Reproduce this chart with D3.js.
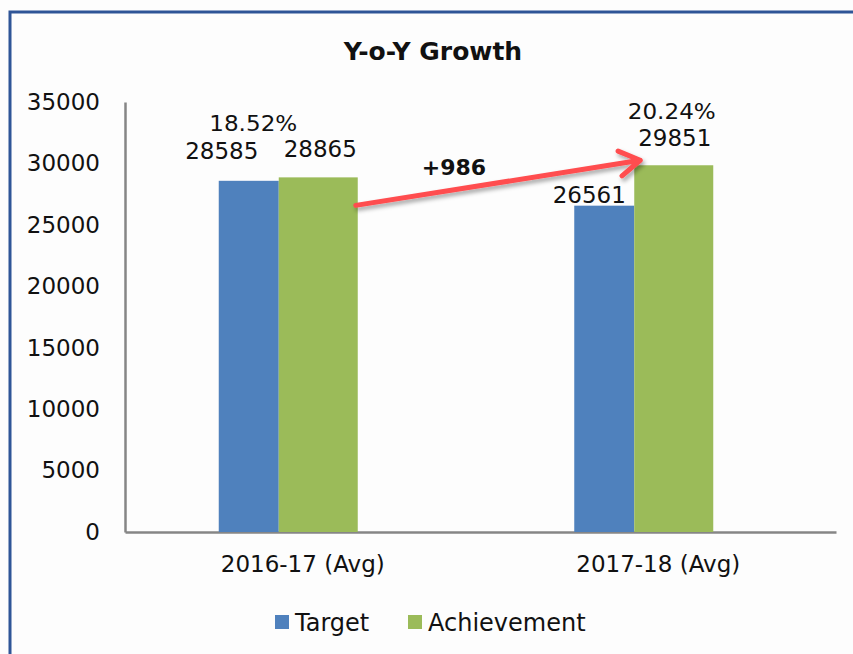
<!DOCTYPE html>
<html>
<head>
<meta charset="utf-8">
<script src="https://cdn.jsdelivr.net/npm/d3@7"></script>
<style>
  body { margin: 0; background: #fdfdfd; }
  text { font-family: "DejaVu Sans", "Liberation Sans", sans-serif; fill: #111; }
</style>
</head>
<body>
<div id="vis"></div>
<script>
// chart data
var categories = ["2016-17 (Avg)", "2017-18 (Avg)"];
var series = ["Target", "Achievement"];
var target = [28585, 26561];
var achievement = [28865, 29851];
var growth = ["18.52%", "20.24%"];
var diffLabel = "+986";
var yTicks = [0, 5000, 10000, 15000, 20000, 25000, 30000, 35000];
var colors = ["#4f81bd", "#9bbb59"];

var W = 853, H = 654;
var margin = {top: 102, right: 17, bottom: 122, left: 125},
    width = W - margin.left - margin.right,
    height = H - margin.top - margin.bottom;

var svg = d3.select("#vis").append("svg")
    .attr("width", W)
    .attr("height", H);

var defs = svg.append("defs");
var f = defs.append("filter").attr("id", "shadow")
    .attr("x", "-10%").attr("y", "-50%").attr("width", "120%").attr("height", "200%");
f.append("feDropShadow").attr("dx", 2).attr("dy", 3).attr("stdDeviation", 2)
    .attr("flood-color", "#000").attr("flood-opacity", 0.35);

// outer frame (cut off at right/bottom)
svg.append("rect")
    .attr("x", 10).attr("y", 12)
    .attr("width", W + 20).attr("height", H + 20)
    .attr("fill", "none")
    .attr("stroke", "#2f5597")
    .attr("stroke-width", 3);

// title
svg.append("text")
    .attr("x", 433).attr("y", 60)
    .attr("text-anchor", "middle")
    .style("font-weight", "bold")
    .style("font-size", "25px")
    .text("Y-o-Y Growth");

var g = svg.append("g")
    .attr("transform", "translate(" + margin.left + "," + margin.top + ")");

var x = d3.scaleBand().domain(categories).range([0, width]);
var y = d3.scaleLinear().domain([0, 35000]).range([height, 0]);

// axes
var yAxis = g.append("g")
    .call(d3.axisLeft(y).tickValues(yTicks).tickSize(0).tickPadding(25).tickFormat(d3.format("d")));
yAxis.select(".domain").attr("stroke", "#868686").attr("stroke-width", 2.5);
yAxis.selectAll("text").style("font-size", "23px").attr("fill", "#111");

var xAxis = g.append("g")
    .attr("transform", "translate(0," + height + ")")
    .call(d3.axisBottom(x).tickSize(0).tickPadding(24));
xAxis.select(".domain").attr("stroke", "#868686").attr("stroke-width", 2.5);
xAxis.selectAll("text").style("font-size", "23px").attr("fill", "#111");

// bars
var blueW = 60, greenW = 79, groupOff = -84;
function bx(i) { return x(categories[i]) + x.bandwidth() / 2 + groupOff; }

g.selectAll(".bar-t")
    .data(target)
  .enter().append("rect")
    .attr("x", function(d, i) { return bx(i); })
    .attr("y", function(d) { return y(d); })
    .attr("width", blueW)
    .attr("height", function(d) { return height - y(d); })
    .attr("fill", colors[0]);

g.selectAll(".bar-a")
    .data(achievement)
  .enter().append("rect")
    .attr("x", function(d, i) { return bx(i) + blueW; })
    .attr("y", function(d) { return y(d); })
    .attr("width", greenW)
    .attr("height", function(d) { return height - y(d); })
    .attr("fill", colors[1]);

// data labels (hand nudged like the original)
var tNudge = [[-27, -22], [-15, -3]];
var aNudge = [[2, -20], [1, -19]];
var gNudge = [[-65, -46], [-2, -46]];

g.selectAll(".lab-t")
    .data(target)
  .enter().append("text")
    .attr("x", function(d, i) { return bx(i) + blueW / 2 + tNudge[i][0]; })
    .attr("y", function(d, i) { return y(d) + tNudge[i][1]; })
    .attr("text-anchor", "middle")
    .style("font-size", "23px")
    .text(function(d) { return d; });

g.selectAll(".lab-a")
    .data(achievement)
  .enter().append("text")
    .attr("x", function(d, i) { return bx(i) + blueW + greenW / 2 + aNudge[i][0]; })
    .attr("y", function(d, i) { return y(d) + aNudge[i][1]; })
    .attr("text-anchor", "middle")
    .style("font-size", "23px")
    .text(function(d) { return d; });

g.selectAll(".lab-g")
    .data(growth)
  .enter().append("text")
    .attr("x", function(d, i) { return bx(i) + blueW + greenW / 2 + gNudge[i][0]; })
    .attr("y", function(d, i) { return y(achievement[i]) + gNudge[i][1]; })
    .attr("text-anchor", "middle")
    .style("font-size", "22px")
    .attr("textLength", 88)
    .attr("lengthAdjust", "spacingAndGlyphs")
    .text(function(d) { return d; });

// growth arrow from first achievement bar to second
var x1 = bx(0) + blueW + greenW - 2, y1 = y(achievement[0]) + 28;
var x2 = bx(1) + blueW + 6, y2 = y(achievement[1]) - 5;
var ang = Math.atan2(y2 - y1, x2 - x1), hl = 24, ha = 0.55;
var arrow = g.append("g").attr("filter", "url(#shadow)");
arrow.append("path")
    .attr("d", "M" + x1 + "," + y1 + "L" + x2 + "," + y2 +
      "M" + (x2 - hl * Math.cos(ang - ha)) + "," + (y2 - hl * Math.sin(ang - ha)) +
      "L" + x2 + "," + y2 +
      "L" + (x2 - hl * Math.cos(ang + ha)) + "," + (y2 - hl * Math.sin(ang + ha)))
    .attr("fill", "none")
    .attr("stroke", "#ff4d4f")
    .attr("stroke-width", 5)
    .attr("stroke-linecap", "round")
    .attr("stroke-linejoin", "round");

g.append("text")
    .attr("x", 454 - margin.left).attr("y", 175 - margin.top)
    .attr("text-anchor", "middle")
    .style("font-weight", "bold")
    .style("font-size", "22px")
    .text(diffLabel);

// legend
var legend = svg.append("g").attr("transform", "translate(275,631)");
var lx = [0, 133];
series.forEach(function(s, i) {
  legend.append("rect")
    .attr("x", lx[i]).attr("y", -16)
    .attr("width", 14).attr("height", 14)
    .attr("fill", colors[i]);
  legend.append("text")
    .attr("x", lx[i] + 20).attr("y", 0)
    .style("font-size", "24px")
    .text(s);
});
</script>
</body>
</html>
